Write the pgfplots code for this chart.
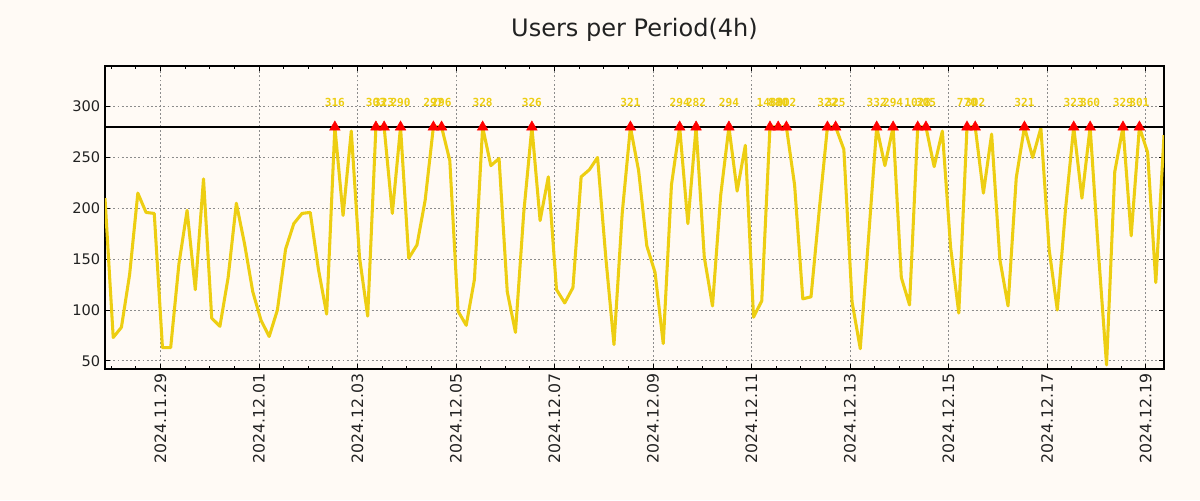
\documentclass[border=0pt]{standalone}
\usepackage{fontspec}
\setmainfont{DejaVu Sans}
\newfontfamily\monofont{DejaVu Sans Mono}
\usepackage{pgfplots}
\pgfplotsset{compat=1.18}
\usepackage{pgfplotstable}
\definecolor{bg}{HTML}{FFFAF5}
\definecolor{gold}{HTML}{EDCE12}
\definecolor{tickc}{HTML}{222222}

% period index (4h steps), clipped value
\pgfplotstableread{
i v
0 210
1 73
2 83
3 135
4 215
5 196
6 195
7 63
8 63
9 145
10 198
11 120
12 229
13 92
14 84
15 132
16 205
17 165
18 118
19 90
20 74
21 100
22 160
23 185
24 195
25 196
26 140
27 96
28 280
29 193
30 276
31 152
32 94
33 280
34 280
35 195
36 280
37 151
38 164
39 208
40 280
41 280
42 247
43 99
44 85
45 130
46 280
47 242
48 249
49 118
50 78
51 195
52 280
53 188
54 231
55 120
56 107
57 122
58 231
59 238
60 250
61 152
62 66
63 195
64 280
65 237
66 163
67 137
68 67
69 223
70 280
71 185
72 280
73 152
74 104
75 213
76 280
77 217
78 262
79 93
80 109
81 280
82 280
83 280
84 223
85 111
86 113
87 198
88 280
89 280
90 258
91 108
92 62
93 170
94 280
95 242
96 280
97 132
98 105
99 280
100 280
101 241
102 276
103 162
104 97
105 280
106 280
107 215
108 273
109 150
110 104
111 230
112 280
113 250
114 279
115 160
116 100
117 199
118 280
119 210
120 280
121 158
122 46
123 236
124 280
125 173
126 280
127 255
128 127
129 272
}\users

% peaks above the 280 cap: index, true value
\pgfplotstableread{
i lab
28 316
33 303
34 323
36 290
40 297
41 296
46 328
52 326
64 321
70 294
72 282
76 294
81 1480
82 880
83 302
88 322
89 325
94 332
96 294
99 1028
100 305
105 770
106 302
112 321
118 323
120 360
124 329
126 301
}\peaks

\begin{document}
\begin{tikzpicture}[x=1bp,y=1bp]
\fill[bg] (-75.6,-94.32) rectangle (788.4,265.68);
\useasboundingbox (-75.6,-94.32) rectangle (788.4,265.68);
\begin{axis}[
  at={(0,0)}, anchor=south west,
  scale only axis, width=762.48bp, height=218.16bp,
  xmin=0, xmax=129, ymin=42, ymax=340,
  axis background/.style={fill=bg},
  xtick={6.75,18.75,...,126.75},
  xticklabels={2024.11.29,2024.12.01,2024.12.03,2024.12.05,2024.12.07,2024.12.09,2024.12.11,2024.12.13,2024.12.15,2024.12.17,2024.12.19},
  minor xtick={0.75,3.75,...,128.75},
  ytick={50,100,...,300},
  grid=major,
  major grid style={black!45, line width=0.6bp, dash pattern=on 1.4bp off 1.6bp},
  tick align=inside,
  major tick length=3.6bp, minor tick length=2bp,
  every tick/.style={black, line width=0.6bp},
  axis line style={line width=0.8bp, black},
  yticklabel style={font=\fontsize{10.5bp}{12bp}\selectfont, text=tickc},
  xticklabel style={rotate=90, anchor=east, font=\fontsize{11.3bp}{13bp}\selectfont, text=tickc},
  /pgf/number format/assume math mode=true,
]
\addplot[gold, line width=2.2bp, line join=round, mark=none] table[x=i,y=v]{\users};
\addplot[only marks, mark=triangle*, mark size=4.4bp, mark options={fill=red, draw=red, line width=0.3bp}] table[x=i, y expr=280]{\peaks};
\draw[black, line width=0.75bp] (axis cs:0,280) -- (axis cs:129,280);
\addplot[draw=none, mark=none, nodes near coords, point meta=explicit symbolic,
  nodes near coords style={anchor=base, inner sep=0pt, text=gold, font=\monofont\bfseries\fontsize{8bp}{9bp}\selectfont}]
  table[x=i, y expr=300.5, meta=lab]{\peaks};
\end{axis}
\node[text=tickc, font=\fontsize{17.3bp}{20bp}\selectfont] at (381.24,244.08) {Users per Period(4h)};
\end{tikzpicture}
\end{document}
